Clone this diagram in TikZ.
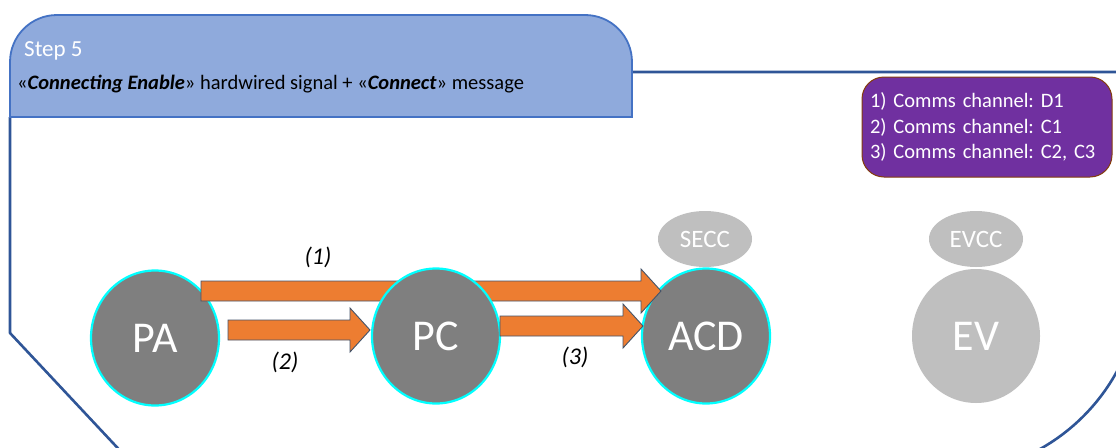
\documentclass[tikz,border=0pt]{standalone}
\usepackage{fontspec}
\setmainfont{Carlito}
\usetikzlibrary{shapes.geometric,calc}
\frenchspacing

\definecolor{tabfill}{HTML}{8FAADC}
\definecolor{tabline}{HTML}{4472C4}
\definecolor{frameline}{HTML}{2F5597}
\definecolor{notefill}{HTML}{7030A0}
\definecolor{noteline}{HTML}{843C0C}
\definecolor{unitgray}{HTML}{7F7F7F}
\definecolor{unitring}{HTML}{00FFFF}
\definecolor{evgray}{HTML}{BFBFBF}
\definecolor{arrowfill}{HTML}{ED7D31}
\definecolor{arrowline}{HTML}{44546A}

% block arrow between two named points: body half-height 10pt, head half-height 22pt
\newcommand\blockarr[2]{%
  \draw[blockarrow] let \p1=(#1), \p2=(#2) in
    (\x1,\y1+10pt) -- (\x2-20pt,\y1+10pt) -- (\x2-20pt,\y1+22pt) -- (\x2,\y2)
    -- (\x2-20pt,\y1-22pt) -- (\x2-20pt,\y1-10pt) -- (\x1,\y1-10pt) -- cycle;}

\begin{document}
\begin{tikzpicture}[x=1pt,y=-1pt,
  frame/.style={draw=frameline,line width=2.6pt,line join=round},
  tab/.style={draw=tabline,fill=tabfill,line width=1.8pt},
  unit/.style={ellipse,draw=unitring,fill=unitgray,line width=2.2pt,
    minimum width=128pt,minimum height=135pt,inner sep=0pt,text=white,
    font=\fontsize{44}{52}\selectfont},
  evunit/.style={ellipse,fill=evgray,minimum width=128pt,minimum height=134pt,
    inner sep=0pt,text=white,font=\fontsize{44}{52}\selectfont},
  ctrl/.style={ellipse,fill=evgray,minimum width=94pt,minimum height=56pt,
    inner sep=0pt,text=white,font=\fontsize{25}{28}\selectfont},
  blockarrow/.style={draw=arrowline,fill=arrowfill,line width=0.9pt,line join=miter},
  steplabel/.style={font=\fontsize{24}{28}\selectfont\itshape,inner sep=0pt},
  notebox/.style={draw=noteline,fill=notefill,line width=1pt,rounded corners=22pt,
    text=white,text width=234pt,inner xsep=8pt,minimum height=100pt,align=left,
    font=\fontsize{20.5}{25.5}\selectfont}]
\useasboundingbox (0,0) rectangle (1116,447);
\clip (0,0) rectangle (1116,447);
\fill[white] (0,0) rectangle (1116,447);

% outer frame of the step
\draw[frame] (10,117) -- (10,333) -- (142,474) -- (944,474)
  .. controls (1052.8,474) and (1141,385.8) .. (1141,277)
  -- (1141,72) -- (632,72);

% header tab
\draw[tab] (10,117) -- (10,62) .. controls (10,36) and (31,15) .. (57,15)
  -- (585,15) .. controls (611,15) and (632,36) .. (632,62) -- (632,117) -- cycle;
\node[anchor=west,text=white,inner sep=0pt,font=\fontsize{23}{27}\selectfont]
  (steptitle) at (24,51) {Step 5};
\node[anchor=west,inner sep=0pt,font=\fontsize{20.5}{24}\selectfont]
  (stepdesc) at (17,84)
  {«\textbf{\textit{Connecting Enable}}» hardwired signal + «\textbf{\textit{Connect}}» message};

% channel notes
\node[notebox] (notes) at (987,127)
  {1) Comms channel: D1\\2) Comms channel: C1\\3) Comms channel: C2, C3};

% units
\node[unit] (PA) at (155,338) {PA};
\node[unit] (ACD) at (706,336) {ACD};
\node[ctrl] (SECC) at (705,239) {SECC};
\node[evunit] (EV) at (976,336) {EV};
\node[ctrl] (EVCC) at (976,239) {EVCC};

% arrow (1): PA to ACD, passing behind PC
\coordinate (a1s) at (201,291);
\coordinate (a1e) at (661,291);
\blockarr{a1s}{a1e}

\node[unit] (PC) at (436,336) {PC};

% arrows (2) and (3)
\coordinate (a2s) at (228,330);
\coordinate (a2e) at (370,330);
\blockarr{a2s}{a2e}
\coordinate (a3s) at (500,326);
\coordinate (a3e) at (643,326);
\blockarr{a3s}{a3e}

\node[steplabel] (l1) at (318,257) {(1)};
\node[steplabel] (l2) at (285,362) {(2)};
\node[steplabel] (l3) at (575,357) {(3)};
\end{tikzpicture}
\end{document}
